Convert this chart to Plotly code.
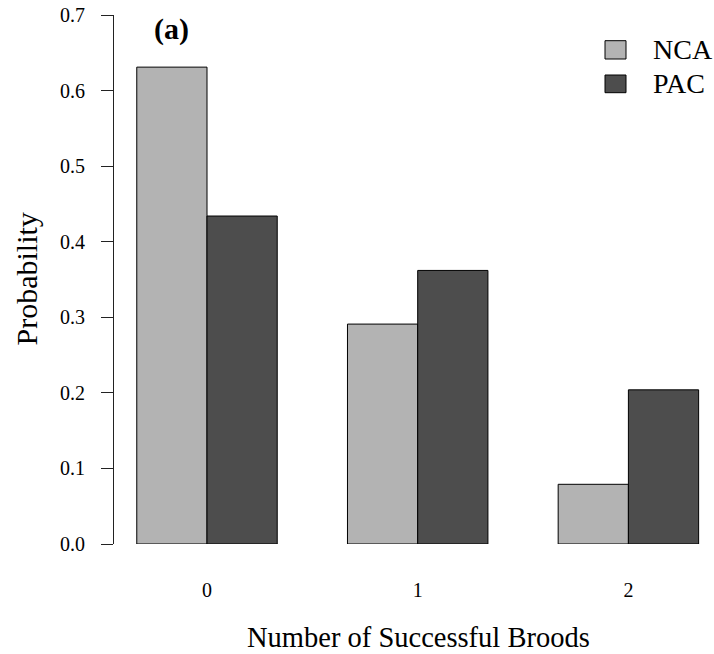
import plotly.graph_objects as go

categories = ["0", "1", "2"]
series_names = ["NCA", "PAC"]
nca_values = [0.631, 0.291, 0.079]
pac_values = [0.434, 0.362, 0.204]
y_ticks = [0.0, 0.1, 0.2, 0.3, 0.4, 0.5, 0.6, 0.7]
colors = ["#b3b3b3", "#4d4d4d"]

W, H = 714, 654
ML, MR, MT, MB = 114, 0, 15, 110
PW, PH = W - ML - MR, H - MT - MB

def px(x):
    return (x - ML) / PW

def py(y):
    return (H - MB - y) / PH

FONT = "Liberation Serif"

fig = go.Figure()
for name, vals, col in zip(series_names, [nca_values, pac_values], colors):
    fig.add_trace(go.Bar(
        x=categories, y=vals, name=name,
        marker=dict(color=col, line=dict(color="black", width=1)),
        showlegend=False,
    ))

shapes = []
annotations = []
# manual legend
leg_boxes = [(40.7, 59.0), (75.0, 92.7)]
for (y0, y1), name, col in zip(leg_boxes, series_names, colors):
    shapes.append(dict(type="rect", xref="paper", yref="paper",
                       x0=px(605), x1=px(626), y0=py(y1), y1=py(y0),
                       fillcolor=col, line=dict(color="black", width=1)))
    annotations.append(dict(text=name, xref="paper", yref="paper",
                            x=px(651), y=py((y0 + y1) / 2), xanchor="left", yanchor="middle",
                            showarrow=False, font=dict(family=FONT, size=28, color="black")))

annotations.append(dict(text="<b>(a)</b>", xref="paper", yref="paper",
                        x=px(171), y=py(29), xanchor="center", yanchor="middle",
                        showarrow=False, font=dict(family=FONT, size=30, color="black")))
annotations.append(dict(text="Number of Successful Broods", xref="paper", yref="paper",
                        x=px(418.5), y=py(637), xanchor="center", yanchor="middle",
                        showarrow=False, font=dict(family=FONT, size=28.5, color="black")))
annotations.append(dict(text="Probability", xref="paper", yref="paper",
                        x=px(26), y=py(279.5), xanchor="center", yanchor="middle", textangle=-90,
                        showarrow=False, font=dict(family=FONT, size=30, color="black")))

spacing = 210.7
c0 = 207.0
fig.update_layout(
    width=W, height=H,
    margin=dict(l=ML, r=MR, t=MT, b=MB, pad=0),
    paper_bgcolor="white", plot_bgcolor="white",
    barmode="group", bargap=1/3, bargroupgap=0,
    font=dict(family=FONT, color="black"),
    shapes=shapes, annotations=annotations,
    xaxis=dict(
        type="category",
        range=[-(c0 - ML) / spacing, 2 + (W - MR - (c0 + 2 * spacing)) / spacing],
        showline=False, showgrid=False, zeroline=False, ticks="",
        tickfont=dict(family=FONT, size=20, color="black"),
        ticklabelstandoff=32,
    ),
    yaxis=dict(
        range=[0, 0.7], tickvals=y_ticks, tickformat=".1f",
        showline=True, linecolor="#222", linewidth=1,
        ticks="outside", ticklen=12, tickcolor="#222", tickwidth=1,
        showgrid=False, zeroline=False,
        tickfont=dict(family=FONT, size=20, color="black"),
        ticklabelstandoff=12,
    ),
)

fig.write_html("out.html")
